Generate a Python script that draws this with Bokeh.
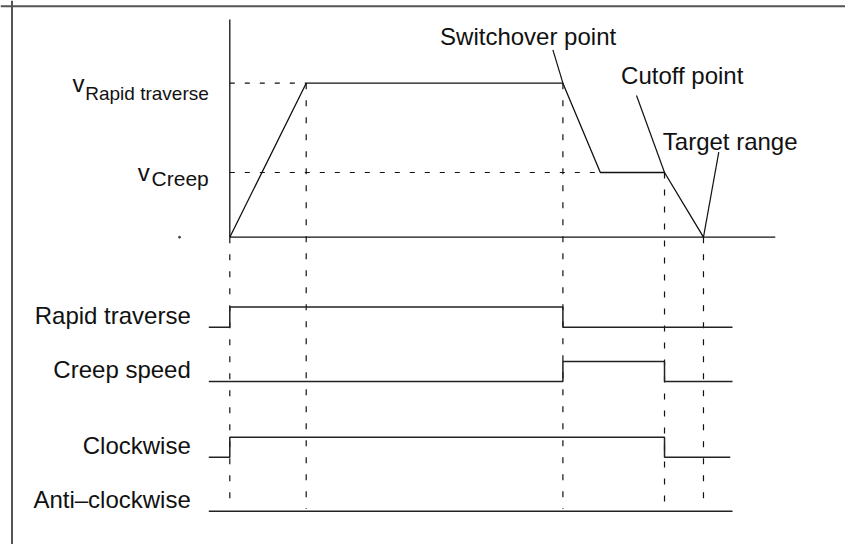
from bokeh.plotting import figure
from bokeh.models import Range1d, Span
from bokeh.core.properties import value
from bokeh.embed import file_html
from bokeh.resources import INLINE

# ---------------- data ----------------
# velocity profile: event times and speeds
event_t = [0.0, 1.0, 4.36, 4.85, 5.69, 6.20]
event_v = [0, 100, 100, 42, 42, 0]
V_RAPID = 100
V_CREEP = 42
speed_levels = [V_RAPID, V_CREEP]
speed_main = ["v", "v"]
speed_sub = ["Rapid traverse", "Creep"]

# digital signals: switching times and states
signal_names = ["Rapid traverse", "Creep speed", "Clockwise", "Anti\u2013clockwise"]
signal_t = [
    [-0.275, 0.0, 4.36, 6.58],
    [-0.275, 4.36, 5.69, 6.58],
    [-0.275, 0.0, 5.69, 6.55],
    [-0.275, 6.58],
]
signal_state = [
    [0, 1, 0, 0],
    [0, 1, 0, 0],
    [0, 1, 0, 0],
    [0, 0],
]

# annotations attached to events (index into event_t/event_v)
annot_text = ["Switchover point", "Cutoff point", "Target range"]
annot_event = [2, 4, 5]

# events that get a dashed guide line down through the signal rows
guide_events = [0, 1, 2, 4, 5]

# ---------------- layout ----------------
W, H = 845, 544
T_ORIGIN_PX = 229.3
PX_T = 76.4
V_ORIGIN_PX = 236.7
PX_V = 1.54
x_start = -T_ORIGIN_PX / PX_T
x_end = (W - T_ORIGIN_PX) / PX_T
y_end = V_ORIGIN_PX / PX_V
y_start = y_end - H / PX_V

AXIS_T_END = 7.14
AXIS_V_TOP = 141.4
ROW_LOW = [-58.4, -93.7, -142.9, -177.9]
SIG_H = 13.0
GUIDE_BOTTOM = -176.5

FONT = value("Liberation Sans")
MAIN_SIZE = value("24px")
SUB_SIZES = [value("19px"), value("21px")]
INK = "#111111"

p = figure(width=W, height=H, x_range=Range1d(x_start, x_end), y_range=Range1d(y_start, y_end),
           x_axis_type=None, y_axis_type=None, output_backend="svg", toolbar_location=None,
           min_border=0, background_fill_color="white", border_fill_color="white")
p.grid.visible = False
p.outline_line_color = None

# frame (top and left edges)
p.add_layout(Span(location=x_start + 11.5 / PX_T, dimension="height", line_color="#555555", line_width=2))
p.add_layout(Span(location=y_end - 5.8 / PX_V, dimension="width", line_color="#555555", line_width=2))

# axes of the velocity diagram
p.line([0, 0], [0, AXIS_V_TOP], line_color=INK, line_width=1.3)
p.line([0, AXIS_T_END], [0, 0], line_color=INK, line_width=1.3)
p.scatter([-0.658], [0], size=2, color="#444444")

# velocity profile
p.line(event_t, event_v, line_color=INK, line_width=1.3)

# dashed horizontal guides to the speed levels
p.line([0, event_t[1]], [V_RAPID, V_RAPID], line_color=INK, line_width=1.2, line_dash="5 10")
p.line([0, event_t[3]], [V_CREEP, V_CREEP], line_color=INK, line_width=1.2, line_dash="5 10")

# dashed vertical guides
for k in guide_events:
    p.line([event_t[k], event_t[k]], [event_v[k], GUIDE_BOTTOM], line_color=INK,
           line_width=1.2, line_dash="6 11")

# speed labels
main_dx = [-145.3, -80.0]
main_dy = [0.0, 0.0]
sub_dy = [10.0, 5.5]
for i in range(2):
    p.text([0], [speed_levels[i]], text=[speed_main[i]], x_offset=main_dx[i], y_offset=main_dy[i],
           text_align="right", text_baseline="alphabetic", text_font=FONT,
           text_font_size=MAIN_SIZE, text_color=INK)
    p.text([0], [speed_levels[i]], text=[speed_sub[i]], x_offset=-21, y_offset=sub_dy[i],
           text_align="right", text_baseline="alphabetic", text_font=FONT,
           text_font_size=SUB_SIZES[i], text_color=INK)

# signals
for i, name in enumerate(signal_names):
    ys = [ROW_LOW[i] + SIG_H * s for s in signal_state[i]]
    p.step(signal_t[i], ys, mode="after", line_color="#222222", line_width=1.5)
    p.text([signal_t[i][0]], [ROW_LOW[i]], text=[name], x_offset=-18, y_offset=-12,
           text_align="right", text_baseline="alphabetic", text_font=FONT,
           text_font_size=MAIN_SIZE, text_color=INK)

# annotations with leader lines
text_dx = [-34.8, 17.7, 26.7]
text_dy = [-46.4, -97.4, -95.7]
lead_dx = [-10.0, -28.0, 15.3]
lead_dy = [-33.4, -77.0, -85.0]
for j, txt in enumerate(annot_text):
    k = annot_event[j]
    t0, v0 = event_t[k], event_v[k]
    p.text([t0], [v0], text=[txt], x_offset=text_dx[j], y_offset=text_dy[j],
           text_align="center", text_baseline="alphabetic", text_font=FONT,
           text_font_size=MAIN_SIZE, text_color=INK)
    p.segment([t0], [v0], [t0 + lead_dx[j] / PX_T], [v0 - lead_dy[j] / PX_V],
              line_color=INK, line_width=1.2)

open("out.html", "w").write(file_html(p, INLINE))
